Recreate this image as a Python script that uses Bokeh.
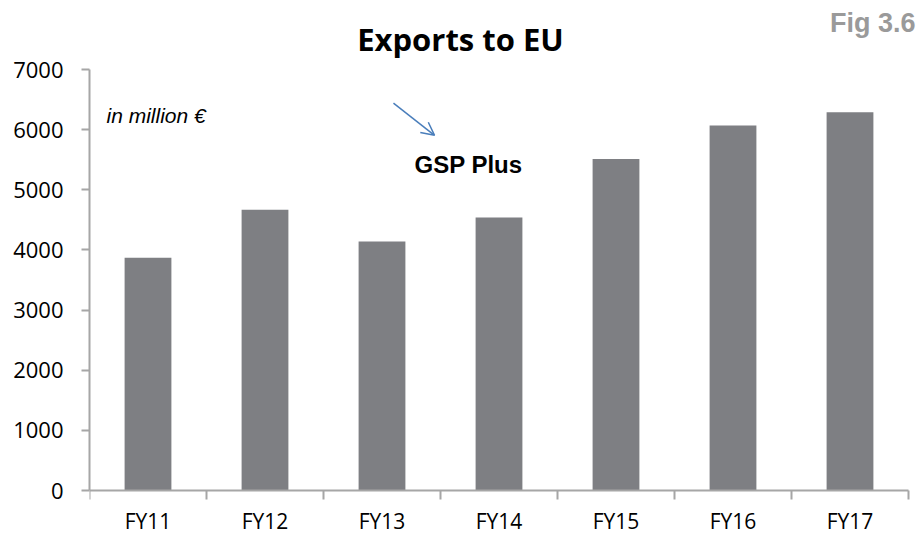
from bokeh.plotting import figure
from bokeh.models import Range1d, FixedTicker, Label, Arrow, OpenHead, LinearAxis
from bokeh.embed import file_html
from bokeh.resources import INLINE

categories = ["FY11", "FY12", "FY13", "FY14", "FY15", "FY16", "FY17"]
exports = [3870, 4670, 4140, 4540, 5510, 6070, 6290]
y_ticks = [0, 1000, 2000, 3000, 4000, 5000, 6000, 7000]

positions = [i + 0.5 for i in range(len(categories))]
boundaries = list(range(len(categories) + 1))

# frame geometry (pixels) used to map the value range onto the canvas
W, H = 920, 535
LEFT = 89
ZERO_FROM_TOP = 490
PX_PER_UNIT = 421 / 7000
y_top = ZERO_FROM_TOP / PX_PER_UNIT
y_bottom = -(H - ZERO_FROM_TOP) / PX_PER_UNIT
x_right = (W - LEFT) / 117

p = figure(width=W, height=H, output_backend="svg", toolbar_location=None,
           title_location=None, x_axis_location=None,
           x_range=Range1d(0, x_right), y_range=Range1d(y_bottom, y_top),
           min_border_left=LEFT, min_border_right=0, min_border_top=0, min_border_bottom=0)

p.vbar(x=positions, top=exports, width=0.4, fill_color="#7e7f83", line_color=None)

axis_color = "#a6a6a6"
p.xgrid.visible = False
p.ygrid.visible = False
p.outline_line_color = None

xa = LinearAxis(fixed_location=0, bounds=(0, len(categories)))
xa.ticker = FixedTicker(ticks=positions, minor_ticks=boundaries)
xa.major_label_overrides = {pos: cat for pos, cat in zip(positions, categories)}
xa.major_tick_out = 0
xa.major_tick_in = 0
xa.minor_tick_out = 9
xa.minor_tick_in = 0
xa.minor_tick_line_color = axis_color
xa.minor_tick_line_width = 2
xa.axis_line_color = axis_color
xa.axis_line_width = 2
xa.major_label_text_font = "Open Sans"
xa.major_label_text_font_size = "21px"
xa.major_label_text_color = "#000000"
xa.major_label_standoff = 7
p.add_layout(xa, "below")

ya = p.yaxis[0]
ya.bounds = (0, 7000)
ya.ticker = FixedTicker(ticks=y_ticks)
ya.major_tick_out = 8
ya.major_tick_in = 0
ya.minor_tick_out = 0
ya.minor_tick_in = 0
ya.major_tick_line_color = axis_color
ya.major_tick_line_width = 2
ya.axis_line_color = axis_color
ya.axis_line_width = 2
ya.major_label_text_font = "Open Sans"
ya.major_label_text_font_size = "22px"
ya.major_label_text_color = "#000000"
ya.major_label_standoff = 18

p.add_layout(Label(x=3.171, y=7510, text="Exports to EU", text_font="Open Sans",
                   text_font_style="bold", text_font_size="31px", text_color="#000000",
                   text_align="center", text_baseline="alphabetic"))
p.add_layout(Label(x=7.06, y=7770, text="Fig 3.6", text_font="Liberation Sans",
                   text_font_style="bold", text_font_size="27px", text_color="#9a9a9a",
                   text_align="right", text_baseline="alphabetic"))
p.add_layout(Label(x=0.145, y=6240, text="in million €", text_font="Liberation Sans",
                   text_font_style="italic", text_font_size="21px", text_color="#000000",
                   text_baseline="alphabetic"))
p.add_layout(Label(x=2.778, y=5420, text="GSP Plus", text_font="Liberation Sans",
                   text_font_style="bold", text_font_size="24px", text_color="#000000",
                   text_baseline="alphabetic"))
p.add_layout(Arrow(x_start=2.598, y_start=6440, x_end=2.949, y_end=5905,
                   line_color="#4a7ebb", line_width=1.5,
                   end=OpenHead(size=13, line_color="#4a7ebb", line_width=1.5)))

open("out.html", "w").write(file_html(p, INLINE))
